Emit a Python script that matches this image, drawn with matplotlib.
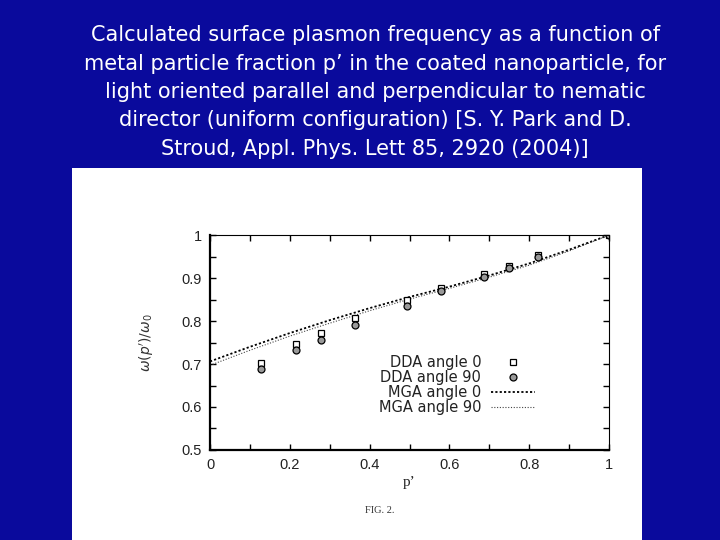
import numpy as np
import matplotlib
matplotlib.use("Agg")
import matplotlib.pyplot as plt
from matplotlib.patches import Rectangle

# ============== Data ==============

# DDA points (open squares = angle 0, circles = angle 90)
p_dda = [0.127, 0.215, 0.278, 0.363, 0.493, 0.578, 0.687, 0.749, 0.823, 1.0]
dda_angle0 = [0.702, 0.746, 0.771, 0.806, 0.850, 0.877, 0.909, 0.929, 0.953, 1.0]
dda_angle90 = [0.688, 0.733, 0.756, 0.791, 0.836, 0.869, 0.903, 0.923, 0.948, 1.0]

# MGA curves
p_mga = [0.0, 0.1, 0.2, 0.3, 0.4, 0.5, 0.6, 0.7, 0.8, 0.9, 1.0]
mga_angle0 = [0.706, 0.740, 0.772, 0.802, 0.830, 0.856, 0.880, 0.906, 0.934, 0.966, 1.0]
mga_angle90 = [0.697, 0.732, 0.765, 0.795, 0.824, 0.851, 0.876, 0.902, 0.930, 0.963, 1.0]

x_ticks = [0, 0.2, 0.4, 0.6, 0.8, 1]
x_ticklabels = ["0", "0.2", "0.4", "0.6", "0.8", "1"]
y_ticks = [0.5, 0.6, 0.7, 0.8, 0.9, 1.0]
y_ticklabels = ["0.5", "0.6", "0.7", "0.8", "0.9", "1"]

title = ("Calculated surface plasmon frequency as a function of\n"
         "metal particle fraction p\u2019 in the coated nanoparticle, for\n"
         "light oriented parallel and perpendicular to nematic\n"
         "director (uniform configuration) [S. Y. Park and D.\n"
         "Stroud, Appl. Phys. Lett 85, 2920 (2004)]")

# ============== Figure ==============

fig = plt.figure(figsize=(7.2, 5.4), dpi=100)
fig.patch.set_facecolor("#0a0a9c")

# white scanned-figure panel, kept behind the axes
fig.patches.append(Rectangle((0.1, 0.0), 0.7917, 0.6889, transform=fig.transFigure,
                             facecolor="white", edgecolor="none", zorder=-5))

fig.text(0.521, 0.953, title, ha="center", va="top", color="white",
         fontsize=15, family="DejaVu Sans", linespacing=1.52)

ax = fig.add_axes([0.2917, 0.1667, 0.5542, 0.398])
ax.set_facecolor("white")

l_mga0, = ax.plot(p_mga, mga_angle0, color="black", lw=1.3, ls=(0, (1.2, 1.2)),
                  label="MGA angle 0")
l_mga90, = ax.plot(p_mga, mga_angle90, color="#444444", lw=0.8, ls=(0, (1, 1.5)),
                   label="MGA angle 90")
m0, = ax.plot(p_dda, dda_angle0, ls="none", marker="s", ms=5, mfc="white",
              mec="black", mew=0.9, label="DDA angle 0")
m90, = ax.plot(p_dda, dda_angle90, ls="none", marker="o", ms=5, mfc="#999999",
               mec="black", mew=0.9, label="DDA angle 90")

ax.set_xlim(0, 1)
ax.set_ylim(0.5, 1.0)
ax.set_xticks(x_ticks)
ax.set_xticklabels(x_ticklabels)
ax.set_yticks(y_ticks)
ax.set_yticklabels(y_ticklabels)
ax.set_xticks(np.arange(0.1, 1.0, 0.2), minor=True)
ax.set_yticks(np.arange(0.55, 1.0, 0.1), minor=True)
ax.tick_params(which="both", direction="in", top=True, right=True,
               length=4, width=1.0, labelsize=10.5, labelcolor="#222222",
               pad=6)
for lab in ax.get_xticklabels() + ax.get_yticklabels():
    lab.set_family("Liberation Sans")
for side in ["left", "bottom"]:
    ax.spines[side].set_linewidth(1.6)
for side in ["top", "right"]:
    ax.spines[side].set_linewidth(0.8)

ax.set_xlabel("p\u2019", fontsize=11, family="Liberation Serif", color="#222222",
              labelpad=3)
ax.set_ylabel(r"$\omega(p')/\omega_0$", fontsize=10, color="#333333", labelpad=18)

leg = ax.legend(handles=[m0, m90, l_mga0, l_mga90], loc="upper right",
                bbox_to_anchor=(0.815, 0.44), borderaxespad=0, borderpad=0,
                frameon=False, markerfirst=False,
                handlelength=3.0, handletextpad=0.7, labelspacing=0.0,
                prop={"family": "DejaVu Sans", "size": 10.5})
for t in leg.get_texts():
    t.set_color("#222222")

fig.text(0.528, 0.055, "FIG. 2.", ha="center", va="center", fontsize=7.5,
         family="Liberation Serif", color="#333333")

fig.savefig("out.png", dpi=100, facecolor=fig.get_facecolor())
